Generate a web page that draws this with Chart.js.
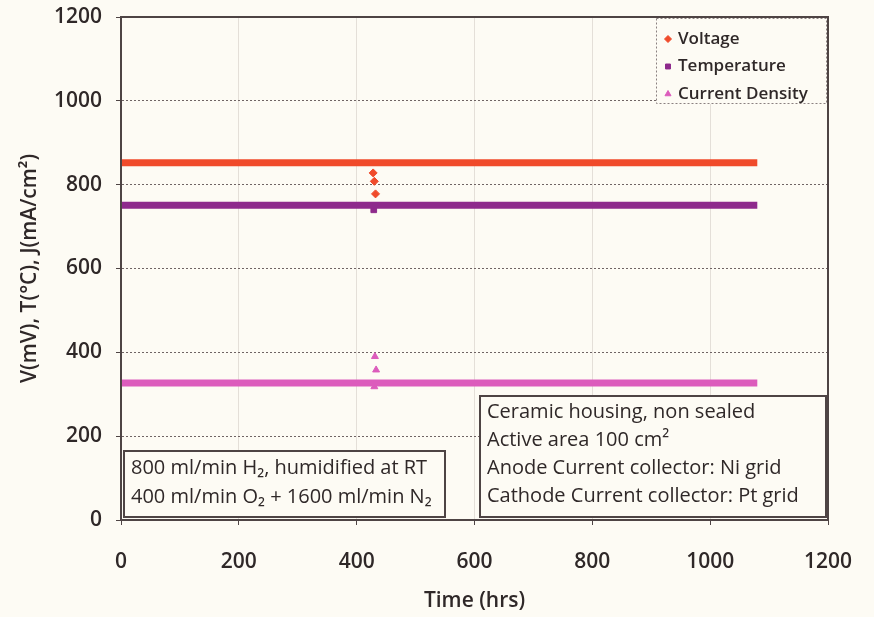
<!DOCTYPE html>
<html>
<head>
<meta charset="utf-8">
<title>Cell test</title>
<script src="https://cdn.jsdelivr.net/npm/chart.js@4.4.1/dist/chart.umd.min.js"></script>
<style>
  html, body { margin: 0; padding: 0; background: #fdfbf4; }
  #wrap { width: 874px; height: 617px; }
</style>
</head>
<body>
<div id="wrap"><canvas id="chart" width="874" height="617"></canvas></div>
<script>
// steady run, 0 to ~1080 h
const runTime = [0, 1080];
const voltageSteady = [852, 852];
const tempSteady = [751, 751];
const currentSteady = [327, 327];

// excursion around 430 h
const voltageDipTime = [428, 430, 432];
const voltageDip = [828, 808, 778];
const tempDipTime = [429];
const tempDip = [740];
const currentDipTime = [431, 433, 430];
const currentDip = [390, 358, 318];

const xTicks = [0, 200, 400, 600, 800, 1000, 1200];
const yTicks = [0, 200, 400, 600, 800, 1000, 1200];

const seriesNames = ['Voltage', 'Temperature', 'Current Density'];
const seriesColors = ['#f04b2b', '#8e2a8c', '#dc5cbc'];
const seriesMarkers = ['rectRot', 'rect', 'triangle'];

const boxLeft = ['800 ml/min H\u2082, humidified at RT', '400 ml/min O\u2082 + 1600 ml/min N\u2082'];
const boxRight = ['Ceramic housing, non sealed', 'Active area 100 cm\u00b2',
  'Anode Current collector: Ni grid', 'Cathode Current collector: Pt grid'];

const FONT = '"Open Sans", "Noto Sans", sans-serif';
const TEXT = '#2f2828';
const FRAME = '#4e4444';

function pts(xs, ys) {
    return xs.map((x, i) => ({ x: x, y: ys[i] }));
}

function lineSet(i, ys) {
    return {
        label: seriesNames[i],
        data: pts(runTime, ys),
        showLine: true,
        borderColor: seriesColors[i],
        backgroundColor: seriesColors[i],
        borderWidth: 7,
        pointRadius: 0,
        pointStyle: seriesMarkers[i]
    };
}

function dipSet(i, xs, ys) {
    return {
        label: seriesNames[i] + ' excursion',
        data: pts(xs, ys),
        showLine: false,
        borderColor: seriesColors[i],
        backgroundColor: seriesColors[i],
        pointStyle: seriesMarkers[i],
        pointRadius: 4,
        borderWidth: 1
    };
}

// background, frame, legend and note boxes
const decorations = {
    id: 'decorations',
    beforeDraw(chart) {
        const c = chart.ctx;
        c.save();
        c.fillStyle = '#fdfbf4';
        c.fillRect(0, 0, chart.width, chart.height);
        c.restore();
    },
    afterDraw(chart) {
        const c = chart.ctx;
        const a = chart.chartArea;
        c.save();
        c.strokeStyle = FRAME;
        c.lineWidth = 2;
        c.strokeRect(a.left, a.top, a.right - a.left, a.bottom - a.top);

        // legend
        const lx = a.right - 172, ly = a.top + 1, lw = 171, lh = 86;
        c.fillStyle = '#fdfbf4';
        c.fillRect(lx, ly, lw, lh);
        c.strokeStyle = '#8a8080';
        c.lineWidth = 1;
        c.setLineDash([2, 2]);
        c.strokeRect(lx + 0.5, ly + 0.5, lw - 1, lh - 1);
        c.setLineDash([]);
        c.font = '600 17px ' + FONT;
        c.textBaseline = 'middle';
        c.textAlign = 'left';
        seriesNames.forEach((name, i) => {
            const yy = ly + 21 + i * 27.5;
            c.fillStyle = seriesColors[i];
            c.strokeStyle = seriesColors[i];
            Chart.helpers.drawPoint(c, { pointStyle: seriesMarkers[i], radius: 3.5, rotation: 0, borderWidth: 1 }, lx + 12, yy);
            c.fillStyle = TEXT;
            c.fillText(name, lx + 22, yy);
        });

        // note boxes
        function noteBox(x0, y0, w, h, lines, first, step) {
            c.fillStyle = '#fdfbf4';
            c.fillRect(x0, y0, w, h);
            c.strokeStyle = FRAME;
            c.lineWidth = 2;
            c.strokeRect(x0, y0, w, h);
            c.fillStyle = TEXT;
            c.font = '500 20px ' + FONT;
            c.textBaseline = 'middle';
            lines.forEach((t, i) => c.fillText(t, x0 + 7, y0 + first + i * step));
        }
        noteBox(a.left + 3, 451, 321, 66, boxLeft, 17, 29);
        noteBox(480, 396, 346, 121, boxRight, 16, 28);
        c.restore();
    }
};

new Chart(document.getElementById('chart'), {
    type: 'scatter',
    data: {
        datasets: [
            lineSet(0, voltageSteady),
            lineSet(1, tempSteady),
            lineSet(2, currentSteady),
            dipSet(0, voltageDipTime, voltageDip),
            dipSet(1, tempDipTime, tempDip),
            dipSet(2, currentDipTime, currentDip)
        ]
    },
    options: {
        responsive: false,
        animation: false,
        layout: { padding: { top: 17, right: 46, left: 0, bottom: 0 } },
        plugins: {
            legend: { display: false },
            tooltip: { enabled: false }
        },
        scales: {
            x: {
                type: 'linear',
                min: 0,
                max: 1200,
                afterBuildTicks: (s) => { s.ticks = xTicks.map(v => ({ value: v })); },
                afterFit: (s) => { s.height = 97; s.paddingLeft = 0; s.paddingRight = 0; },
                border: { display: true, color: FRAME, width: 2 },
                grid: { color: '#e4dfd8', lineWidth: 1, tickLength: 5, tickColor: FRAME },
                ticks: {
                    color: TEXT,
                    padding: 24,
                    callback: (v) => String(v),
                    font: { family: FONT, size: 21, weight: '600' }
                },
                title: {
                    display: true,
                    text: 'Time (hrs)',
                    color: TEXT,
                    padding: { top: 0, bottom: 3 },
                    font: { family: FONT, size: 21, weight: '600' }
                }
            },
            y: {
                type: 'linear',
                min: 0,
                max: 1200,
                afterBuildTicks: (s) => { s.ticks = yTicks.map(v => ({ value: v })); },
                afterFit: (s) => { s.width = 121; s.paddingTop = 0; s.paddingBottom = 0; },
                border: { display: true, color: FRAME, width: 2, dash: [2, 2] },
                grid: {
                    color: '#6f6464',
                    lineWidth: 1,
                    tickLength: 5,
                    tickColor: FRAME
                },
                ticks: {
                    color: TEXT,
                    padding: 14,
                    callback: (v) => String(v),
                    font: { family: FONT, size: 21, weight: '600' }
                },
                title: {
                    display: true,
                    text: 'V(mV), T(\u00b0C), J(mA/cm\u00b2)',
                    color: TEXT,
                    padding: { top: 17, bottom: 0 },
                    font: { family: FONT, size: 21, weight: '600' }
                }
            }
        }
    },
    plugins: [decorations]
});
</script>
</body>
</html>
